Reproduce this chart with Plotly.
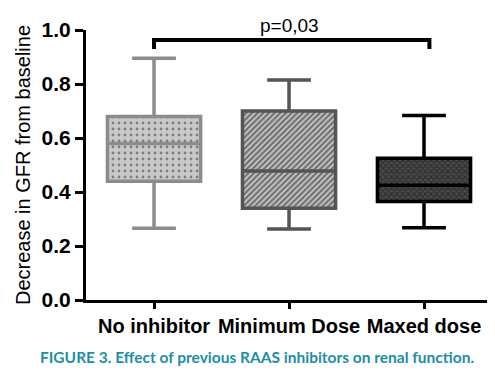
import plotly.graph_objects as go

categories = ["No inhibitor", "Minimum Dose", "Maxed dose"]
q1 = [0.44, 0.34, 0.365]
median = [0.58, 0.478, 0.425]
q3 = [0.68, 0.70, 0.525]
lower = [0.266, 0.263, 0.268]
upper = [0.895, 0.815, 0.683]
y_ticks = [0.0, 0.2, 0.4, 0.6, 0.8, 1.0]
p_text = "p=0,03"
bracket_x = [0, 0, 2.04, 2.04]
bracket_y = [0.93, 0.963, 0.963, 0.93]

line_colors = ["#8c8c8c", "#545454", "#000000"]
bg_colors = ["#c9c9c9", "#c4c4c4", "#4a4a4a"]
fg_colors = ["#333333", "#111111", "#111111"]
shapes = [".", "/", "x"]
sizes = [6, 4, 4]
solid = [0.18, 0.5, 0.5]

BW = 0.69
fig = go.Figure()
xs = list(range(len(categories)))
for i in xs:
    fig.add_trace(go.Bar(
        x=[i], y=[q3[i] - q1[i]], base=[q1[i]], width=BW,
        marker=dict(color=bg_colors[i], line=dict(width=0),
                    pattern=dict(shape=shapes[i], bgcolor=bg_colors[i], fgcolor=fg_colors[i],
                                 size=sizes[i], solidity=solid[i])),
        showlegend=False, hoverinfo="skip"))
for i in xs:
    fig.add_trace(go.Box(
        x=[i], q1=[q1[i]], median=[median[i]], q3=[q3[i]],
        lowerfence=[lower[i]], upperfence=[upper[i]],
        width=BW, whiskerwidth=0.47, fillcolor="rgba(0,0,0,0)",
        line=dict(color=line_colors[i], width=3.5), showlegend=False, boxpoints=False))

fig.add_trace(go.Scatter(x=bracket_x, y=bracket_y, mode="lines",
                         line=dict(color="black", width=4), cliponaxis=False,
                         showlegend=False, hoverinfo="skip"))

fig.add_annotation(x=1, y=1.015, xref="x", yref="paper", text=p_text, showarrow=False,
                   yanchor="middle", font=dict(family="Liberation Sans", size=19, color="black"))
fig.add_annotation(x=0.419, y=-0.211, xref="paper", yref="paper",
                   text="FIGURE 3. Effect of previous RAAS inhibitors on renal function.",
                   showarrow=False, yanchor="middle", xanchor="center",
                   font=dict(family="Lato", size=15.5, color="#1b8fa6", weight="bold"))

fig.update_layout(
    width=487, height=369, margin=dict(l=78, r=0, t=22, b=77),
    plot_bgcolor="white", paper_bgcolor="white",
    barmode="overlay", boxmode="overlay", bargap=0,
    xaxis=dict(range=[-0.504, 2.526], tickvals=xs, ticktext=categories,
               showgrid=False, zeroline=False, showline=True, linecolor="black", linewidth=3,
               ticks="outside", ticklen=6, tickwidth=3, tickcolor="black",
               tickfont=dict(family="Liberation Sans", size=20, color="black", weight="bold")),
    yaxis=dict(range=[0, 1.0], tickvals=y_ticks, ticktext=[f"{v:.1f}" for v in y_ticks],
               showgrid=False, zeroline=False, showline=True, linecolor="black", linewidth=3,
               ticks="outside", ticklen=8, tickwidth=3, tickcolor="black",
               tickfont=dict(family="Liberation Sans", size=21, color="black", weight="bold"),
               title=dict(text="Decrease in GFR from baseline", standoff=6,
                          font=dict(family="Liberation Sans", size=20, color="black"))),
)
fig.write_html("out.html")
